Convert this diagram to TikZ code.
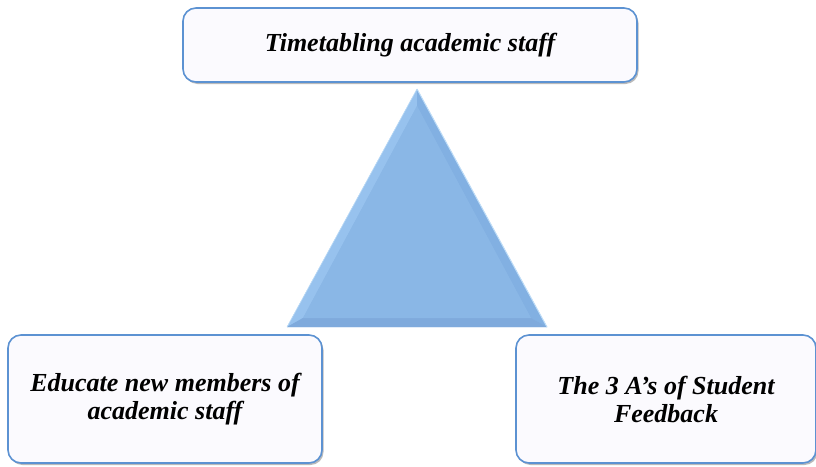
\documentclass[tikz,border=0pt]{standalone}
\usepackage{fontspec}
\setmainfont{Liberation Serif}
\usetikzlibrary{shadows}
\definecolor{boxfill}{HTML}{FBFAFE}
\definecolor{boxline}{HTML}{5C92D2}
\definecolor{trimain}{HTML}{8AB7E6}
\definecolor{trilight}{HTML}{97C2EE}
\definecolor{tridark}{HTML}{82B0E2}
\definecolor{tribottom}{HTML}{7FAADC}
\definecolor{triedge}{HTML}{BFDDF7}
\begin{document}
\begin{tikzpicture}[x=1pt,y=-1pt,
  itembox/.style={draw=boxline, line width=1.6pt, fill=boxfill, rounded corners=13pt,
    drop shadow={shadow xshift=1.5pt, shadow yshift=-2pt, fill=black!45, opacity=0.6},
    font=\fontsize{26}{28}\selectfont\bfseries\itshape, align=center, inner sep=0pt}]
\useasboundingbox (0,0) rectangle (816,466);
% triangle
\coordinate (A) at (417,89);
\coordinate (L) at (287,327);
\coordinate (R) at (547,327);
\coordinate (a) at (417,106);
\coordinate (l) at (303,318);
\coordinate (r) at (531,318);
\fill[trimain] (A) -- (L) -- (R) -- cycle;
\fill[trilight] (A) -- (L) -- (l) -- (a) -- cycle;
\fill[tridark] (A) -- (R) -- (r) -- (a) -- cycle;
\fill[tribottom] (L) -- (R) -- (r) -- (l) -- cycle;
\fill[trimain] (a) -- (l) -- (r) -- cycle;
\draw[triedge, line width=1pt] (A) -- (R);
\draw[triedge, line width=0.6pt] (A) -- (L);
% boxes
\node[itembox, minimum width=454pt, minimum height=74pt] (top) at (410,45) {Timetabling academic staff};
\node[itembox, minimum width=314pt, minimum height=128pt] (left) at (165,399) {Educate new members of\\academic staff};
\node[itembox, minimum width=300pt, minimum height=128pt] (right) at (666,399) {The 3 A’s of Student\\Feedback};
\end{tikzpicture}
\end{document}
